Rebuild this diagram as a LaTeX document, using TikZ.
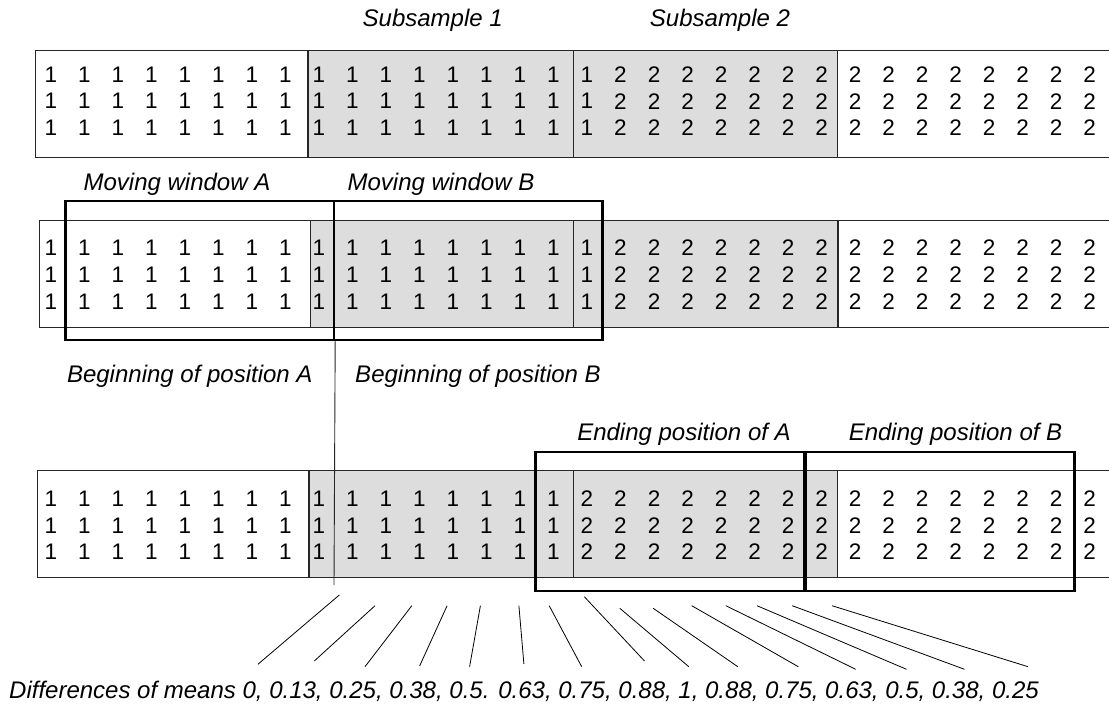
\documentclass[tikz,border=0pt]{standalone}
\usepackage{fontspec}
\setmainfont{Liberation Sans}
\definecolor{CGray}{HTML}{DDDDDD}

\begin{document}
\begin{tikzpicture}[
    x=1pt, y=-1pt,
    strip/.style={draw=black!85, line width=0.9pt},
    sub/.style={fill=CGray, draw=black!85, line width=0.9pt},
    split/.style={draw=black!85, line width=0.9pt},
    edge/.style={draw=black!85, line width=1.8pt},
    window/.style={rectangle, draw=black, line width=2.4pt, inner sep=0pt, minimum width=268.6pt, minimum height=139pt},
    digit/.style={inner sep=0pt, font=\fontsize{22.5}{27}\selectfont},
    label/.style={inner sep=0pt, font=\fontsize{24}{28}\selectfont\itshape},
    fan/.style={draw=black, line width=0.8pt},
]
\useasboundingbox (0,0) rectangle (1109,709);
\clip (0,0) rectangle (1109,709);

% Strips
\draw[strip] (35.7,50.7) rectangle (1115,157.5);
\draw[sub] (308,50.7) rectangle (837.5,157.5);
\draw[edge] (308,50.7) -- (308,157.5);
\draw[split] (573.7,50.7) -- (573.7,157.5);

\draw[strip] (39.3,220) rectangle (1115,327.7);
\draw[sub] (310,220) rectangle (838,327.7);
\draw[edge] (838,220) -- (838,327.7);
\draw[split] (573.7,220) -- (573.7,327.7);

\draw[strip] (37.5,470.7) rectangle (1115,577.5);
\draw[sub] (309,470.7) rectangle (837.5,577.5);
\draw[edge] (309,470.7) -- (309,577.5);
\draw[split] (573.7,470.7) -- (573.7,577.5);

% Digits
\foreach \r [evaluate=\r as \ya using 74.5+26.7*(\r-1),
             evaluate=\r as \yb using 248+26.7*(\r-1),
             evaluate=\r as \yc using 498.7+26.7*(\r-1)] in {1,2,3} {
  \foreach \k [evaluate=\k as \xk using 51+33.5*\k] in {0,...,31} {
    \node[digit] (s1-\r-\k) at (\xk,\ya) {\ifnum\k<17 1\else 2\fi};
    \node[digit] (s2-\r-\k) at (\xk,\yb) {\ifnum\k<17 1\else 2\fi};
    \node[digit] (s3-\r-\k) at (\xk,\yc) {\ifnum\k<16 1\else 2\fi};
  }
}

% Windows
\node[window] (wA) at (199.7,270.5) {};
\node[window] (wB) at (468.2,270.5) {};
\node[window] (eA) at (669.8,521.6) {};
\node[window] (eB) at (940.3,521.6) {};

\coordinate (mark) at (334,585);
\draw[split] (wA.south east) -- (mark);

% Labels
\node[label] (sub1) at (432.7,20) {Subsample 1};
\node[label] (sub2) at (720,20) {Subsample 2};
\node[label] (winA) at (177,184) {Moving window A};
\node[label] (winB) at (441,184) {Moving window B};
\node[label] (begA) at (189.8,376) {Beginning of position A};
\node[label] (begB) at (478,376) {Beginning of position B};
\node[label] (endA) at (684,434) {Ending position of A};
\node[label] (endB) at (955.5,434) {Ending position of B};
\node[label, anchor=base west] (diff) at (9,698) {Differences of means 0, 0.13, 0.25, 0.38, 0.5. 0.63, 0.75, 0.88, 1, 0.88, 0.75, 0.63, 0.5, 0.38, 0.25};

% Fan of differences
\foreach \a/\b/\c/\d [count=\i] in {339.3/595/257.9/664.3, 375/605.7/314.3/661,
    411.8/605.7/365/666.7, 447.1/605.7/419.6/666, 480.4/605.7/469.6/666.7,
    518.9/605.7/523.9/664, 549.2/605.7/581.7/666.7, 584.3/596.7/644.5/661,
    619.8/608.3/688.8/666.7, 653.2/608.3/737.8/666.7, 691.7/605.7/798.3/666.7,
    725.8/605.7/855.7/669.3, 757/605.7/906.5/669.3, 792.2/605.7/964.5/669.3,
    832/605.7/1028/666.7} {
  \coordinate (ft\i) at (\a,\b);
  \coordinate (fb\i) at (\c,\d);
  \draw[fan] (ft\i) -- (fb\i);
}

\end{tikzpicture}
\end{document}
